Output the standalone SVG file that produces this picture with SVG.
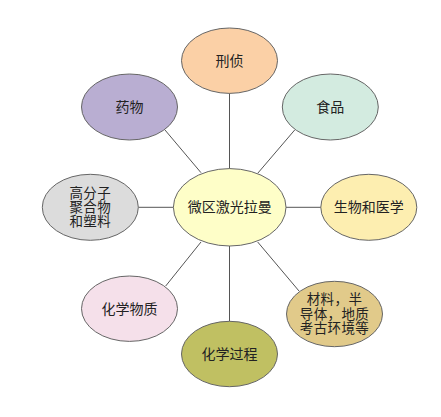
<svg xmlns="http://www.w3.org/2000/svg" width="441" height="417" viewBox="0 0 441 417">
<style>
.n ellipse{stroke:#666;stroke-width:1}
.n text{font-family:"Liberation Sans","Noto Sans CJK SC",sans-serif;font-size:14px;fill:#222;text-anchor:middle}
.n text.m{font-size:13.5px;letter-spacing:0.4px}
#links line{stroke:#555;stroke-width:1}
</style>
<rect width="441" height="417" fill="#fff"/>
<g id="links">
<line x1="165" y1="130" x2="201" y2="172.7"/>
<line x1="229.5" y1="93" x2="229.5" y2="169"/>
<line x1="294.7" y1="130" x2="257.7" y2="173.3"/>
<line x1="138.3" y1="207.3" x2="173.3" y2="207.3"/>
<line x1="286" y1="207.3" x2="321" y2="207.3"/>
<line x1="165.7" y1="286" x2="201" y2="242"/>
<line x1="229.5" y1="246" x2="229.5" y2="321.3"/>
<line x1="257.7" y1="242" x2="299" y2="291"/>
</g>
<g id="n-xingzhen" class="n"><ellipse cx="229.5" cy="60.7" rx="48" ry="32.7" fill="#fbd0a6"/><text x="229.5" y="65.5">刑侦</text></g>
<g id="n-yaowu" class="n"><ellipse cx="129.5" cy="107" rx="48" ry="33" fill="#b9aed2"/><text x="129.5" y="112">药物</text></g>
<g id="n-shipin" class="n"><ellipse cx="330.3" cy="107" rx="48" ry="33" fill="#d3ebe0"/><text x="330.3" y="112">食品</text></g>
<g id="n-center" class="n"><ellipse cx="229.7" cy="207.3" rx="56.3" ry="38.7" fill="#fefec8"/><text x="229.7" y="212.3">微区激光拉曼</text></g>
<g id="n-gaofenzi" class="n"><ellipse cx="90.3" cy="207.3" rx="48" ry="33" fill="#dcdcdc"/><text class="m"><tspan x="90.3" y="197.5">高分子</tspan><tspan x="90.3" y="211.5">聚合物</tspan><tspan x="90.3" y="225.5">和塑料</tspan></text></g>
<g id="n-shengwu" class="n"><ellipse cx="368.8" cy="207.3" rx="48" ry="33" fill="#fdeeb0"/><text x="368.8" y="212.3">生物和医学</text></g>
<g id="n-huaxuewuzhi" class="n"><ellipse cx="129.5" cy="308.7" rx="48" ry="32.7" fill="#f5e0ea"/><text x="129.5" y="313.7">化学物质</text></g>
<g id="n-huaxueguocheng" class="n"><ellipse cx="229.5" cy="354" rx="48" ry="32.7" fill="#c0c062"/><text x="229.5" y="359">化学过程</text></g>
<g id="n-cailiao" class="n"><ellipse cx="334.5" cy="314" rx="48" ry="32.7" fill="#e1ca8a"/><text class="m"><tspan x="334.5" y="304.3">材料，半</tspan><tspan x="334.5" y="319">导体，地质</tspan><tspan x="334.5" y="333.3">考古环境等</tspan></text></g>
</svg>
